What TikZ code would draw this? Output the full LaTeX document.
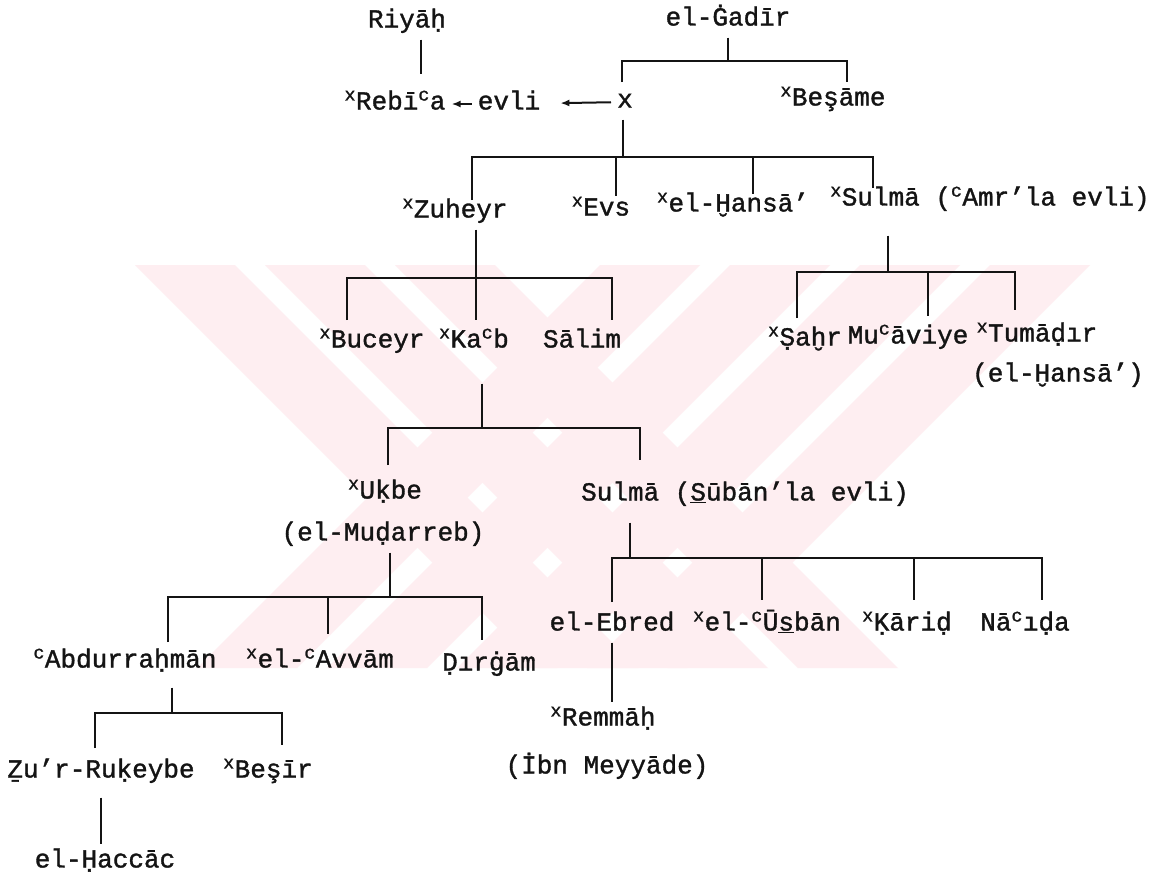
\documentclass[tikz,border=0pt]{standalone}
\usepackage{fontspec}
\setmainfont{Liberation Mono}[FakeBold=1.3]
\usepackage{xcolor}
\definecolor{Ink}{HTML}{141414}
\definecolor{Blush}{HTML}{FEEEF1}
\usepackage{tikz}
\usetikzlibrary{arrows.meta}
\newcommand\ayn{\textsuperscript{c}}
\newcommand\poet{\textsuperscript{x}}
\newcommand\ubar[1]{\underline{#1}}

\begin{document}
\begin{tikzpicture}[x=1pt,y=-1pt,
  every node/.style={font=\fontsize{26}{30}\selectfont,text=Ink,inner sep=6pt,
    text height=17pt,text depth=6pt},
  tie/.style={draw=Ink,line width=2pt},
  arr/.style={tie,-{Latex[length=9pt,width=7pt]}}
]
\fill[white] (0,0) rectangle (1163,895);
\useasboundingbox (0,0) rectangle (1163,895);
% faint watermark behind the tree
\begin{scope}
  \clip (135,265) rectangle (1130,668);
  \foreach \a in {135,265,395}
    \fill[Blush] (\a,265) -- ++(100,0) -- ++(403,403) -- ++(-100,0) -- cycle;
  \foreach \a in {600,730,860,990}
    \fill[Blush] (\a,265) -- ++(100,0) -- ++(-403,403) -- ++(-100,0) -- cycle;
\end{scope}

% generation 1
\node (riyah) at (407,22) {Riyāḥ};
\node (gadir) at (728,20) {el-Ġadīr};
% generation 2
\node (rebia) at (395,104) {\poet Rebī\ayn a};
\node (evli) at (509,104) {evli};
\node (father) at (625,102) {x};
\node (besame) at (833,100) {\poet Beşāme};
% generation 3
\node (zuheyr) at (455,212) {\poet Zuheyr};
\node (evs) at (601,210) {\poet Evs};
\node (hansa) at (733,206) {\poet el-Ḫansā’};
\node (sulma) at (990,200) {\poet Sulmā (\ayn Amr'la evli)};
% generation 4
\node (buceyr) at (372,342) {\poet Buceyr};
\node (kab) at (474,342) {\poet Ka\ayn b};
\node (salim) at (582,342) {Sālim};
\node (sahr) at (805,340) {\poet Ṣaḫr};
\node (muaviye) at (908,338) {Mu\ayn āviye};
\node (tumadir) at (1037,336) {\poet Tumāḍır};
\node (tumnote) at (1058,376) {(el-Ḫansā’)};
% generation 5
\node (ukbe) at (385,493) {\poet Uḳbe};
\node (mudarreb) at (383,535) {(el-Muḍarreb)};
\node (sulmab) at (745,495) {Sulmā (\ubar{S}ūbān'la evli)};
% generation 6
\node (abd) at (125,662) {\ayn Abdurraḥmān};
\node (avvam) at (320,662) {\poet el-\ayn Avvām};
\node (dirgam) at (489,665) {Ḍırġām};
\node (ebred) at (612,625) {el-Ebred};
\node (usban) at (767,625) {\poet el-\ayn Ū\ubar{s}bān};
\node (karid) at (907,625) {\poet Ḳāriḍ};
\node (naida) at (1025,625) {Nā\ayn ıḍa};
% generation 7 and 8
\node (remmah) at (603,720) {\poet Remmāḥ};
\node (ibn) at (607,768) {(İbn Meyyāde)};
\node (zur) at (101,772) {Ẕu'r-Ruḳeybe};
\node (besir) at (268,772) {\poet Beşīr};
\node (haccac) at (105,862) {el-Ḥaccāc};

% junctions and drop ends
\coordinate (j-gadir) at (728,61);
\coordinate (d-father) at (622,82);
\coordinate (d-besame) at (847,82);
\coordinate (j-father) at (623,157);
\coordinate (d-zuheyr) at (472,200);
\coordinate (d-evs) at (616,196);
\coordinate (d-hansa) at (753,194);
\coordinate (d-sulma) at (873,188);
\coordinate (j-zuheyr) at (476,278);
\coordinate (d-buceyr) at (347,320);
\coordinate (d-kab) at (476,320);
\coordinate (d-salim) at (612,320);
\coordinate (j-sulma) at (888,272);
\coordinate (d-sahr) at (797,318);
\coordinate (d-muaviye) at (928,316);
\coordinate (d-tumadir) at (1015,310);
\coordinate (j-kab) at (482,428);
\coordinate (d-ukbe) at (388,465);
\coordinate (d-sulmab) at (640,460);
\coordinate (j-mudarreb) at (390,597);
\coordinate (d-abd) at (168,642);
\coordinate (d-avvam) at (328,634);
\coordinate (d-dirgam) at (482,640);
\coordinate (j-sulmab) at (630,558);
\coordinate (d-ebred) at (612,602);
\coordinate (d-usban) at (762,600);
\coordinate (d-karid) at (914,600);
\coordinate (d-naida) at (1042,600);
\coordinate (j-abd) at (172,713);
\coordinate (d-zur) at (95,748);
\coordinate (d-besir) at (282,745);

% marriages
\draw[arr] (evli) -- (rebia);
\draw[arr,shorten >=14pt] (father) -- (evli);
% descent lines
\draw[tie,shorten >=12pt] ([xshift=14pt]riyah.south) -- ([xshift=14pt]riyah.south |- rebia.north);
\draw[tie] (gadir.south -| j-gadir) -- (j-gadir);
\draw[tie] (d-father) |- (j-gadir) -| (d-besame);
\draw[tie] (father.south -| j-father) -- (j-father);
\draw[tie] (d-zuheyr) |- (j-father) -| (d-sulma);
\draw[tie] (j-father -| d-evs) -- (d-evs);
\draw[tie] (j-father -| d-hansa) -- (d-hansa);
\draw[tie] (zuheyr.south -| j-zuheyr) -- (j-zuheyr);
\draw[tie] (d-buceyr) |- (j-zuheyr) -| (d-salim);
\draw[tie] (j-zuheyr) -- (d-kab);
\draw[tie,shorten <=18pt] (sulma.south -| j-sulma) -- (j-sulma);
\draw[tie] (d-sahr) |- (j-sulma) -| (d-tumadir);
\draw[tie] (j-sulma -| d-muaviye) -- (d-muaviye);
\draw[tie,shorten <=24pt] (kab.south -| j-kab) -- (j-kab);
\draw[tie] (d-ukbe) |- (j-kab) -| (d-sulmab);
\draw[tie] (mudarreb.south -| j-mudarreb) -- (j-mudarreb);
\draw[tie] (d-abd) |- (j-mudarreb) -| (d-dirgam);
\draw[tie] (j-mudarreb -| d-avvam) -- (d-avvam);
\draw[tie,shorten <=10pt] (sulmab.south -| j-sulmab) -- (j-sulmab);
\draw[tie] (d-ebred) |- (j-sulmab) -| (d-naida);
\draw[tie] (j-sulmab -| d-usban) -- (d-usban);
\draw[tie] (j-sulmab -| d-karid) -- (d-karid);
\draw[tie] (ebred.south) -- (ebred.south |- remmah.north);
\draw[tie,shorten <=8pt] (abd.south -| j-abd) -- (j-abd);
\draw[tie] (d-zur) |- (j-abd) -| (d-besir);
\draw[tie,shorten <=8pt] (zur.south) -- (zur.south |- haccac.north);
\end{tikzpicture}
\end{document}
